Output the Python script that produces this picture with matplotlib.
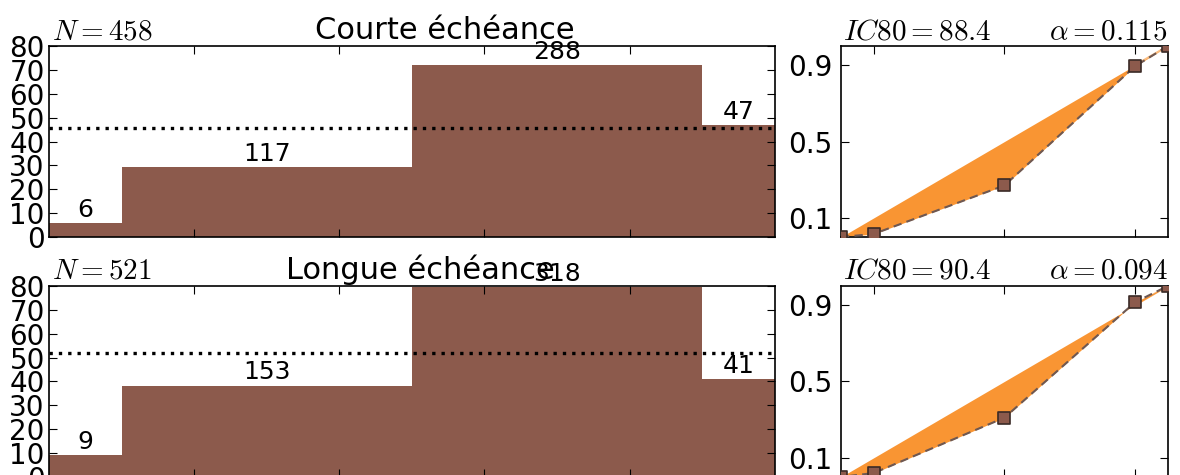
import matplotlib
matplotlib.use('Agg')
import matplotlib.pyplot as plt
from matplotlib.markers import MarkerStyle
import numpy as np

# classes de probabilité (bornes) et effectifs
bin_edges = [0.0, 0.1, 0.5, 0.9, 1.0]
counts_courte = [6, 117, 288, 47]
counts_longue = [9, 153, 318, 41]

# diagramme de fiabilité
prob_points = [0.0, 0.1, 0.5, 0.9, 1.0]
freq_courte = [0.0, 0.016, 0.27, 0.895, 1.0]
freq_longue = [0.0, 0.02, 0.31, 0.915, 1.0]

titles = ['Courte échéance', 'Longue échéance']
ic80 = [88.4, 90.4]
alphas = [0.115, 0.094]

brown = '#8c5a4c'
orange = '#f99533'

plt.rcParams['xtick.direction'] = 'in'
plt.rcParams['ytick.direction'] = 'in'
plt.rcParams['xtick.top'] = True
plt.rcParams['ytick.right'] = True
plt.rcParams['xtick.major.size'] = 6
plt.rcParams['ytick.major.size'] = 6
plt.rcParams['axes.linewidth'] = 1.2
plt.rcParams['mathtext.fontset'] = 'cm'

fig = plt.figure(figsize=(11.8, 4.75), dpi=100)

rows = [
    (counts_courte, freq_courte, 0.501, 0.545),
    (counts_longue, freq_longue, -0.004, 0.512),
]

for i, (counts, freqs, bottom, title_x) in enumerate(rows):
    # histogramme (effectif par point de pourcentage)
    ax = fig.add_axes([0.0415, bottom, 0.615, 0.402])
    edges = np.array(bin_edges)
    widths = np.diff(edges)
    counts = np.array(counts)
    heights = counts / (widths * 10)
    n = counts.sum()
    ax.bar(edges[:-1], heights, width=widths, align='edge', color=brown, linewidth=0)
    ax.axhline(n / 10, color='black', linewidth=2.4, linestyle=(0, (1, 1.8)))
    for left, w, h, c in zip(edges[:-1], widths, heights, counts):
        ax.text(left + w / 2, h + 0.5, str(c), ha='center', va='bottom', fontsize=18)
    ax.set_xlim(0, 1)
    ax.set_ylim(0, 80)
    ax.set_xticks([0.2, 0.4, 0.6, 0.8])
    ax.set_xticklabels([])
    ax.set_yticks(range(0, 81, 10))
    ax.tick_params(labelsize=20, pad=3)
    ax.text(0.004, 1.005, r'$N=%d$' % n, transform=ax.transAxes, ha='left', va='bottom', fontsize=21)
    ax.text(title_x, 1.005, titles[i], transform=ax.transAxes, ha='center', va='bottom', fontsize=22)

    # diagramme de fiabilité
    ax2 = fig.add_axes([0.7127, bottom, 0.277, 0.402])
    ax2.fill_between(prob_points, freqs, prob_points, color=orange, linewidth=0)
    ax2.plot([0.9, 1.0], [0.9, 1.0], color=orange, linewidth=1.5, alpha=0.6)
    ax2.plot(prob_points, freqs, color='#6e5852', linestyle='--', linewidth=1.5,
             dashes=(4, 2.5), zorder=3)
    ax2.plot(prob_points, freqs, linestyle='none',
             marker=MarkerStyle('s', joinstyle='round'), markersize=8.5,
             markerfacecolor=brown, markeredgecolor='#3a2a26', markeredgewidth=1.2,
             zorder=4)
    ax2.set_xlim(0, 1)
    ax2.set_ylim(0, 1)
    ax2.set_xticks([0.1, 0.5, 0.9])
    ax2.set_xticklabels([])
    ax2.set_yticks([0.1, 0.5, 0.9])
    ax2.set_yticklabels(['0.1', '0.5', '0.9'])
    ax2.tick_params(labelsize=20, pad=6)
    ax2.text(0.005, 1.005, r'$IC80=%.1f$' % ic80[i], transform=ax2.transAxes,
             ha='left', va='bottom', fontsize=21)
    ax2.text(1.0, 1.005, r'$\alpha=%.3f$' % alphas[i], transform=ax2.transAxes,
             ha='right', va='bottom', fontsize=21)

fig.savefig('out.png', dpi=100, facecolor='white')
